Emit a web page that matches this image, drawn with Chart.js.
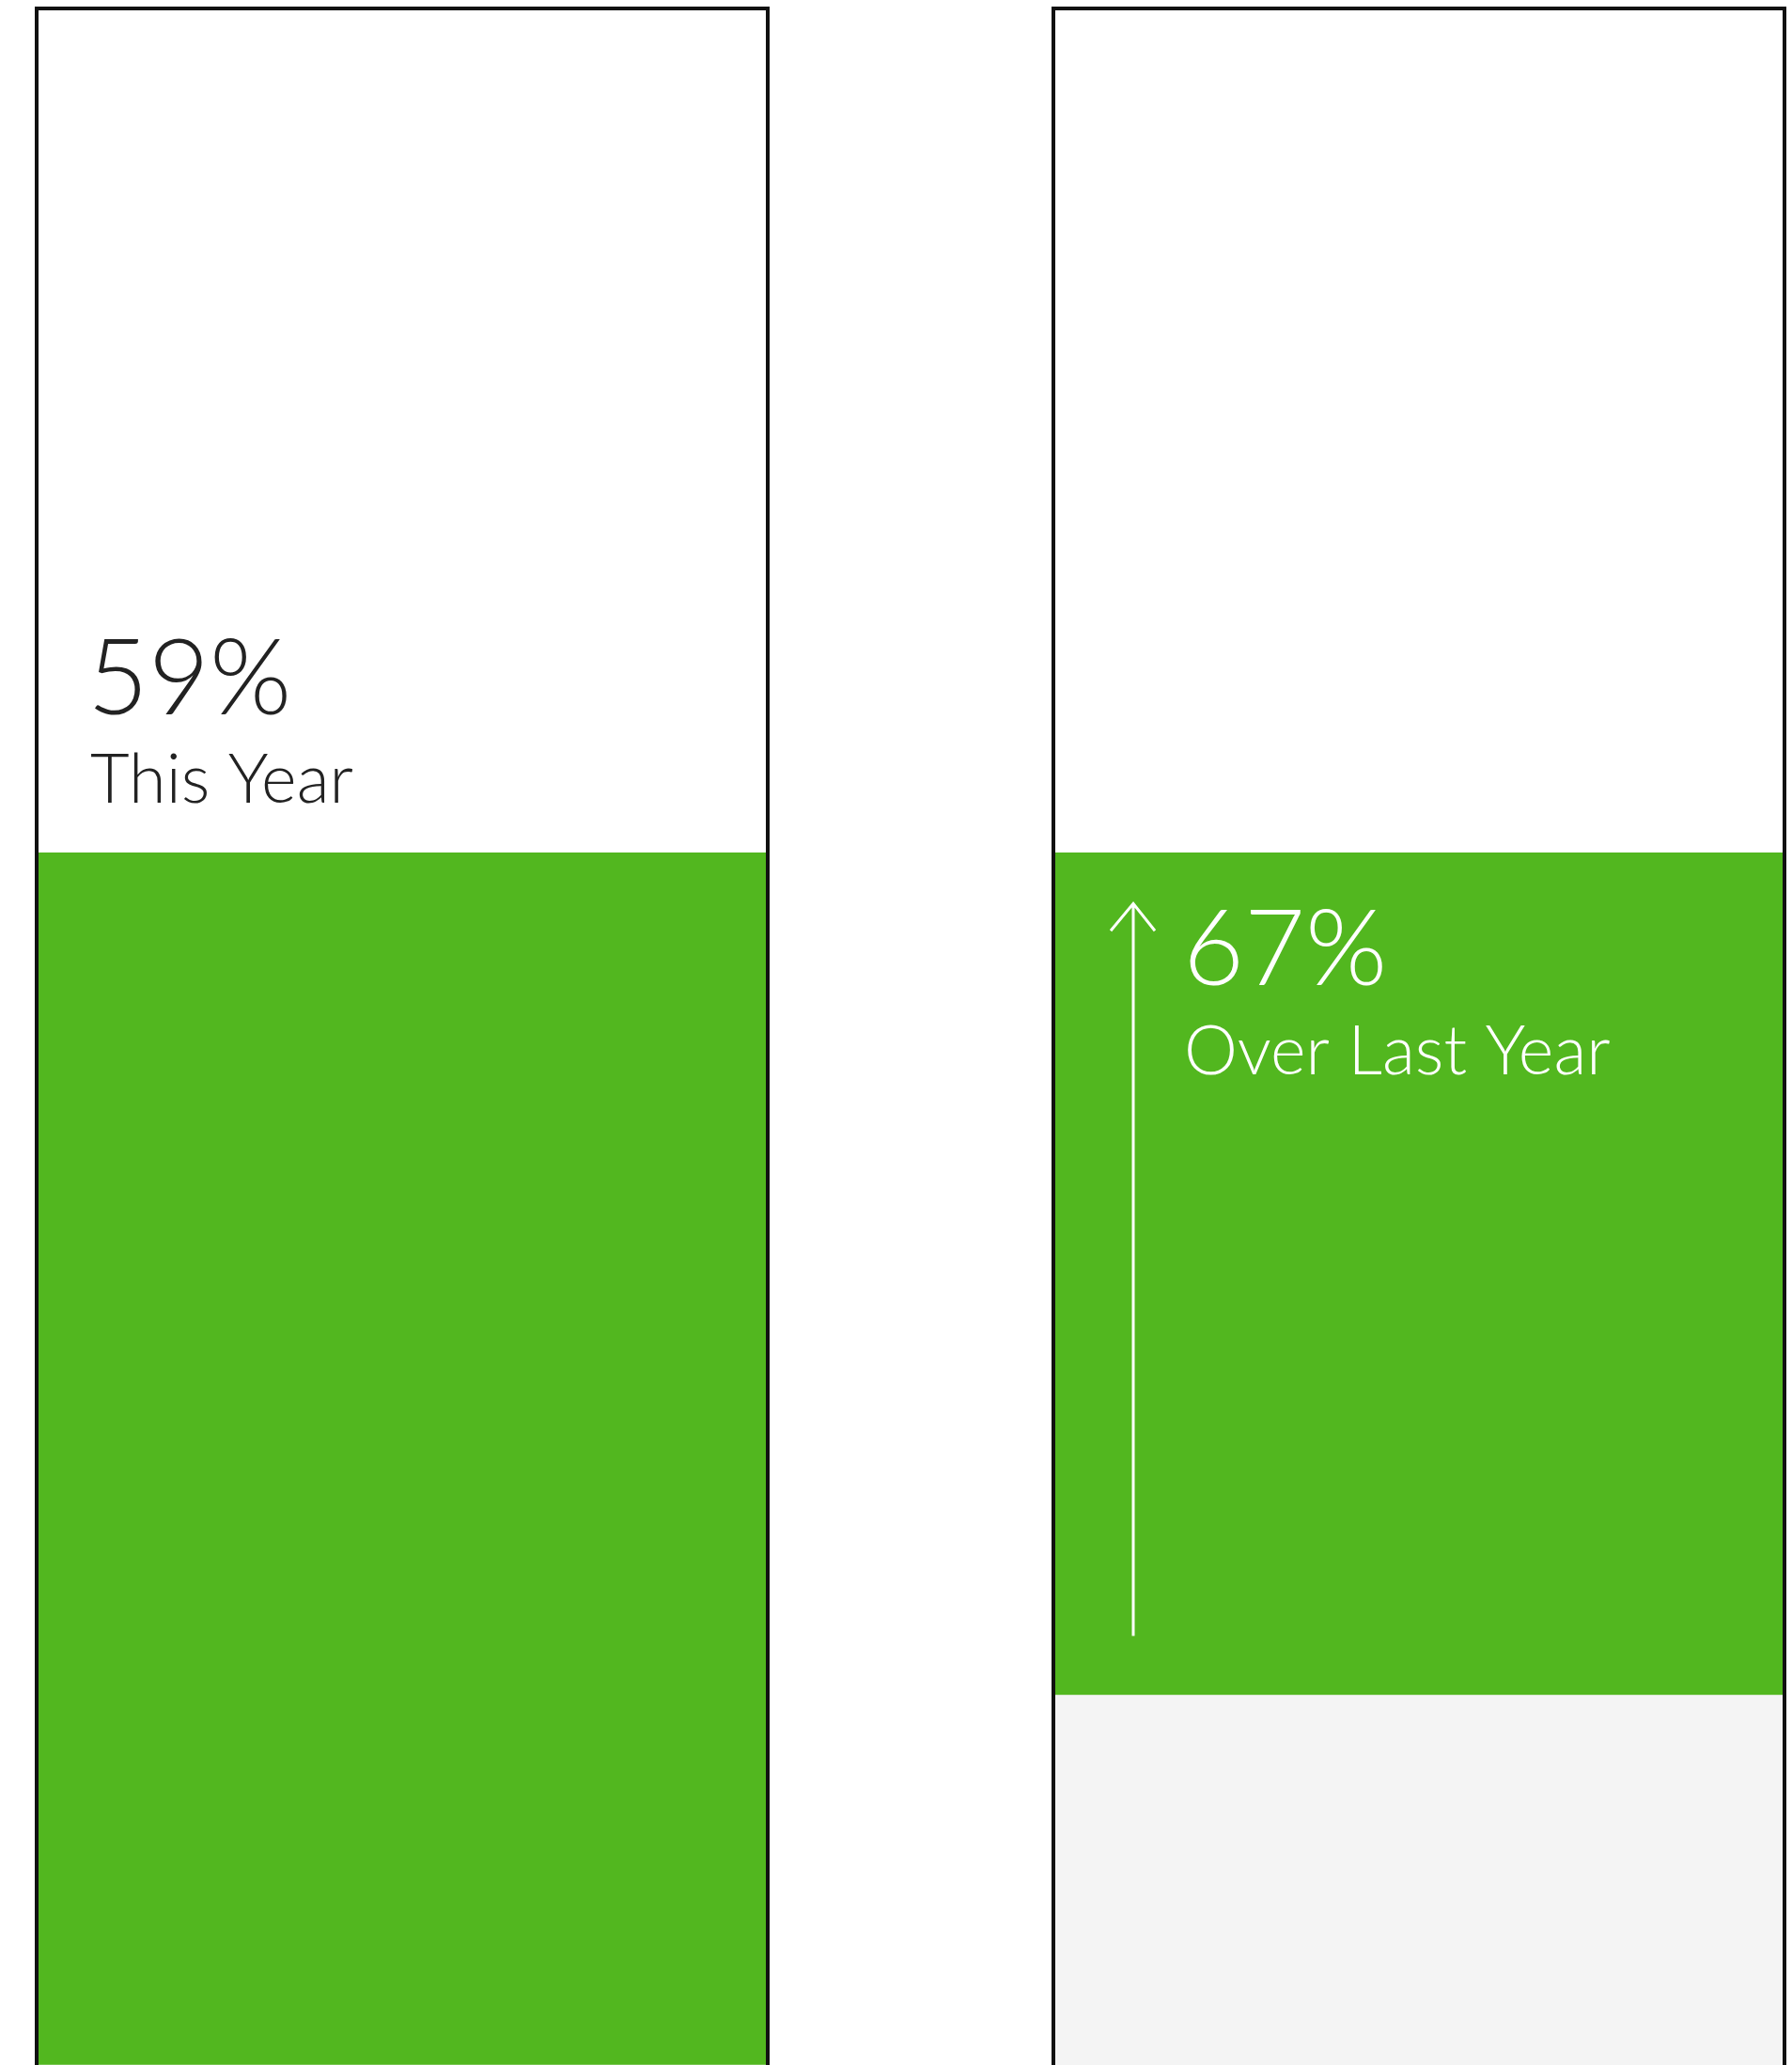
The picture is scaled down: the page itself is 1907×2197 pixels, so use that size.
<!DOCTYPE html>
<html>
<head>
<meta charset="utf-8">
<script src="https://cdn.jsdelivr.net/npm/chart.js@4/dist/chart.umd.min.js"></script>
<style>
    html, body { margin: 0; padding: 0; background: #fff; overflow: hidden; }
    canvas { display: block; }
</style>
</head>
<body>
<canvas id="chart" width="1907" height="2197"></canvas>
<script>
// data
const categories = ["This Year", "Over Last Year"];
const baseValues = [0, 18];      // grey part (last year)
const greenValues = [59, 41];    // green part
const bigLabels = ["59%", "67%"];
const smallLabels = ["This Year", "Over Last Year"];

const GREEN = "#52b71f";
const GREY = "#f4f4f4";
const FONT = "Lato, 'Open Sans', sans-serif";

// box outlines + labels
const boxPlugin = {
    id: "boxes",
    afterDatasetsDraw(chart) {
        const ctx = chart.ctx;
        const area = chart.chartArea;
        const baseMeta = chart.getDatasetMeta(0);
        const greenMeta = chart.getDatasetMeta(1);

        ctx.save();
        ctx.lineWidth = 4;
        ctx.strokeStyle = "#111";
        baseMeta.data.forEach(bar => {
            const left = bar.x - bar.width / 2 - 2;
            ctx.strokeRect(left, area.top - 2, bar.width + 4, chart.height + 20);
        });

        // left column: text above the bar
        const g0 = greenMeta.data[0];
        const left0 = g0.x - g0.width / 2;
        ctx.fillStyle = "#222";
        ctx.textAlign = "left";
        ctx.textBaseline = "alphabetic";
        ctx.font = "300 112px " + FONT;
        ctx.fillText(bigLabels[0], left0 + 52, g0.y - 147);
        ctx.font = "300 72px " + FONT;
        ctx.fillText(smallLabels[0], left0 + 55, g0.y - 53);

        // right column: text inside the green part + arrow
        const g1 = greenMeta.data[1];
        const left1 = g1.x - g1.width / 2;
        ctx.fillStyle = "#fff";
        ctx.font = "300 112px " + FONT;
        ctx.fillText(bigLabels[1], left1 + 136, g1.y + 141);
        ctx.font = "300 72px " + FONT;
        ctx.fillText(smallLabels[1], left1 + 137, g1.y + 236);

        const ax = left1 + 83;
        const top = g1.y + 54;
        const bottom = g1.base - 63;
        ctx.strokeStyle = "#fff";
        ctx.lineWidth = 3;
        ctx.beginPath();
        ctx.moveTo(ax, bottom);
        ctx.lineTo(ax, top);
        ctx.moveTo(ax - 24, top + 29);
        ctx.lineTo(ax, top);
        ctx.lineTo(ax + 23, top + 29);
        ctx.stroke();
        ctx.restore();
    }
};

new Chart(document.getElementById("chart"), {
    type: "bar",
    data: {
        labels: categories,
        datasets: [
            {
                label: "Last Year",
                data: baseValues,
                backgroundColor: GREY,
                borderWidth: 0,
                clip: false
            },
            {
                label: "Increase",
                data: greenValues,
                backgroundColor: GREEN,
                borderWidth: 0,
                clip: false
            }
        ]
    },
    options: {
        responsive: false,
        animation: false,
        devicePixelRatio: 1,
        barThickness: 774,
        layout: {
            padding: { left: 428, right: 397, top: 11, bottom: 0 }
        },
        scales: {
            x: { display: false, stacked: true, offset: false, grid: { display: false } },
            y: { display: false, stacked: true, min: 0, max: 100, grid: { display: false } }
        },
        plugins: {
            legend: { display: false },
            tooltip: { enabled: false }
        }
    },
    plugins: [boxPlugin]
});
</script>
</body>
</html>
